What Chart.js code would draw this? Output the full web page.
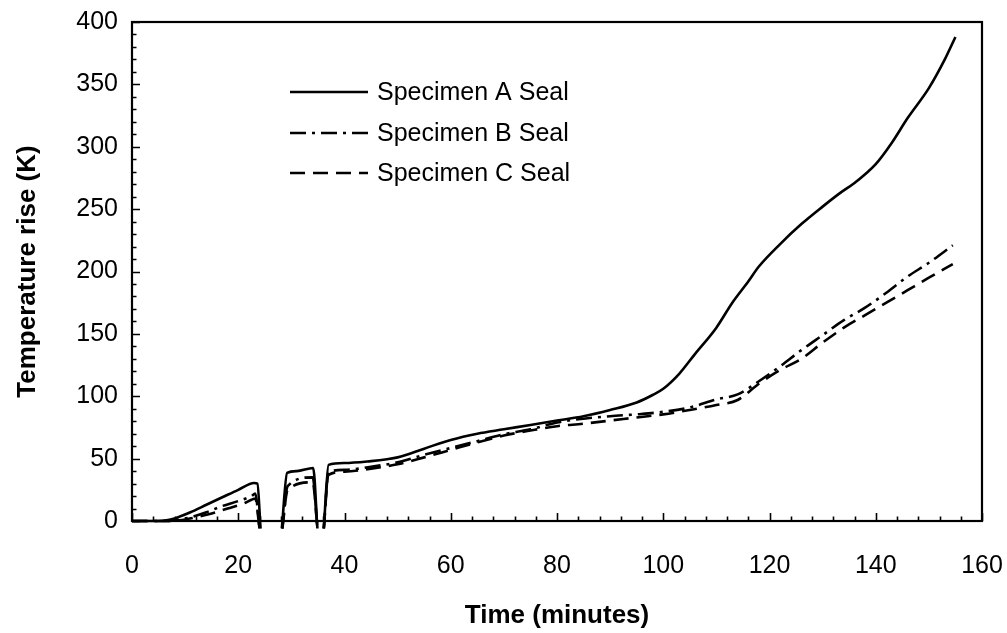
<!DOCTYPE html>
<html><head><meta charset="utf-8">
<script src="https://cdn.jsdelivr.net/npm/chart.js@4.4.0/dist/chart.umd.min.js"></script>
<style>html,body{margin:0;padding:0;background:#fff}</style>
</head><body>
<canvas id="c" width="1007" height="633"></canvas>
<script>
const xTickValues = [0, 20, 40, 60, 80, 100, 120, 140, 160];
const yTickValues = [0, 50, 100, 150, 200, 250, 300, 350, 400];
const seriesLabels = ['Specimen A Seal', 'Specimen B Seal', 'Specimen C Seal'];
const xTitle = 'Time (minutes)';
const yTitle = 'Temperature rise (K)';

const timeA = [0, 5, 6.5, 8, 11, 14, 17, 20, 23, 23.6, 24.2, 26, 28.2, 29.2, 31, 34.1, 34.9, 35.5, 36.1, 37, 40, 45, 48, 50, 55, 60, 65, 70, 75, 80, 85, 90, 95, 98, 100, 103, 106, 110, 113, 116, 118, 122, 126, 130, 133, 136, 138, 140, 143, 146, 150, 153, 155];
const tempA = [0, 0, 0.5, 2, 7, 13, 19, 25, 30.5, 30, -6, null, -6, 38.5, 40, 42.5, -6, null, -6, 45, 46.5, 48, 49.5, 51, 58, 65, 70, 73.5, 77, 80.5, 84, 89, 95, 101, 106, 118, 134, 155, 175, 192, 204, 222, 238, 252, 262, 271, 278, 286, 303, 323, 347, 370, 388];

const timeB = [0, 6, 8, 11, 14, 17, 20, 22.5, 23.2, 24, 26, 28.3, 29.3, 34, 34.9, 35.5, 36.1, 37, 40, 45, 50, 55, 60, 65, 70, 75, 80, 85, 90, 95, 100, 105, 110, 114, 118, 122, 126, 130, 134, 138, 142, 146, 150, 154.5];
const tempB = [0, 0, 0.5, 3, 7, 12, 16, 20, 22, -6, null, -6, 28, 35, -6, null, -6, 39, 41, 43.5, 47, 53, 58.5, 64, 69.5, 73.5, 79, 82, 84, 85.5, 87.5, 91, 97.5, 101.5, 112, 124, 137, 149, 161, 171, 183, 196, 207, 221];

const timeC = [0, 7, 9, 12, 15, 18, 21, 22.5, 23.2, 24, 26, 28.3, 29.3, 34, 34.9, 35.5, 36.1, 37, 40, 45, 50, 55, 60, 65, 70, 75, 80, 85, 90, 95, 100, 105, 110, 114, 118, 122, 126, 130, 134, 138, 142, 146, 150, 154.5];
const tempC = [0, 0, 0.5, 3, 6, 10, 14, 17, 18, -6, null, -6, 25, 31, -6, null, -6, 37, 39.5, 42, 45.5, 51, 57, 63, 68.5, 72.5, 76, 78, 80.5, 83, 85.5, 89, 93, 97, 110, 121, 130, 143, 155, 165, 175, 185, 195, 206];

function toPoints(ts, vs) { return ts.map((t, i) => ({ x: t, y: vs[i] })); }

const dashes = [[], [16, 6, 3, 6], [15, 8]];
const FONT = '"Liberation Sans", Arial, sans-serif';

const framePlugin = {
  id: 'frame',
  afterDraw(chart) {
    const ctx = chart.ctx, a = chart.chartArea;
    const xs = chart.scales.x, ys = chart.scales.y;
    ctx.save();
    ctx.strokeStyle = '#000';
    ctx.lineWidth = 2.2;
    ctx.setLineDash([]);
    ctx.strokeRect(a.left, a.top, a.right - a.left, a.bottom - a.top);
    ctx.lineWidth = 1.6;
    ctx.beginPath();
    for (let v = xs.min; v <= xs.max; v += 4) {
      const px = Math.round(xs.getPixelForValue(v)) + 0.5;
      const len = (v % 20 === 0) ? 8 : 4.5;
      ctx.moveTo(px, a.bottom);
      ctx.lineTo(px, a.bottom - len);
    }
    for (let v = ys.min; v <= ys.max; v += 10) {
      const py = Math.round(ys.getPixelForValue(v)) + 0.5;
      const len = (v % 50 === 0) ? 8 : 4.5;
      ctx.moveTo(a.left, py);
      ctx.lineTo(a.left + len, py);
    }
    ctx.stroke();
    // legend
    const ds = chart.data.datasets;
    const legY = [92, 133, 173];
    ctx.font = '25px ' + FONT;
    ctx.fillStyle = '#000';
    ctx.textBaseline = 'middle';
    ctx.textAlign = 'left';
    ds.forEach((d, i) => {
      ctx.beginPath();
      ctx.lineWidth = 2.4;
      ctx.setLineDash(d.borderDash || []);
      ctx.moveTo(290, legY[i]);
      ctx.lineTo(368, legY[i]);
      ctx.stroke();
      ctx.setLineDash([]);
      ctx.fillText(d.label, 377, legY[i] + 1);
    });
    ctx.restore();
  }
};

new Chart(document.getElementById('c'), {
  type: 'line',
  data: {
    datasets: [0, 1, 2].map(i => ({
      label: seriesLabels[i],
      data: [toPoints(timeA, tempA), toPoints(timeB, tempB), toPoints(timeC, tempC)][i],
      borderColor: '#000',
      borderWidth: 2.6,
      borderDash: dashes[i],
      pointRadius: 0,
      fill: false,
      spanGaps: false,
      cubicInterpolationMode: 'monotone',
      clip: { left: 0, top: 0, right: 0, bottom: 10 }
    }))
  },
  options: {
    responsive: false,
    animation: false,
    devicePixelRatio: 1,
    layout: { padding: { top: 22, right: 25, left: 0, bottom: 0 } },
    plugins: { legend: { display: false }, tooltip: { enabled: false } },
    scales: {
      x: {
        type: 'linear', min: 0, max: 160,
        afterBuildTicks: s => { s.ticks = xTickValues.map(v => ({ value: v })); },
        afterFit: s => { s.height = 112; s.paddingLeft = 0; s.paddingRight = 0; },
        grid: { display: false, drawTicks: false },
        border: { display: false },
        ticks: { color: '#000', font: { family: FONT, size: 25 }, padding: 30, maxRotation: 0 },
        title: { display: true, text: xTitle, color: '#000', font: { family: FONT, size: 26, weight: 'bold' }, padding: { top: 2, bottom: 2 } }
      },
      y: {
        type: 'linear', min: 0, max: 400,
        afterBuildTicks: s => { s.ticks = yTickValues.map(v => ({ value: v })); },
        afterFit: s => { s.width = 132; s.paddingTop = 0; s.paddingBottom = 0; },
        grid: { display: false, drawTicks: false },
        border: { display: false },
        ticks: { color: '#000', font: { family: FONT, size: 25 }, padding: 14 },
        title: { display: true, text: yTitle, color: '#000', font: { family: FONT, size: 26, weight: 'bold' }, padding: { top: 12, bottom: 12 } }
      }
    }
  },
  plugins: [framePlugin]
});
</script>
</body></html>
